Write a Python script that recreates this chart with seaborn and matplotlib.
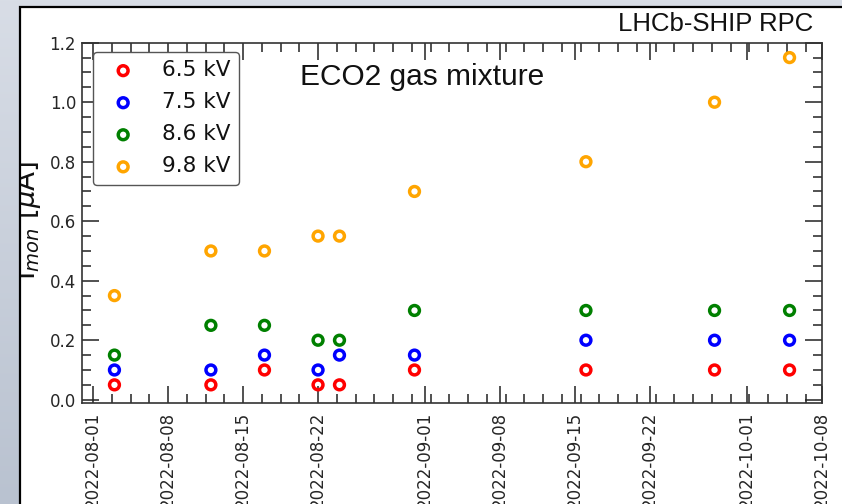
import matplotlib
matplotlib.use("Agg")
import numpy as np
import pandas as pd
import seaborn as sns
import matplotlib.pyplot as plt
import matplotlib.dates as mdates
import matplotlib.ticker as mticker
from matplotlib.patches import Rectangle
from matplotlib.colors import LinearSegmentedColormap
from matplotlib.transforms import Bbox

# ---- data ----
dates = ["2022-08-03", "2022-08-12", "2022-08-17", "2022-08-22", "2022-08-24",
         "2022-08-31", "2022-09-16", "2022-09-28", "2022-10-05"]
i_65 = [0.05, 0.05, 0.10, 0.05, 0.05, 0.10, 0.10, 0.10, 0.10]
i_75 = [0.10, 0.10, 0.15, 0.10, 0.15, 0.15, 0.20, 0.20, 0.20]
i_86 = [0.15, 0.25, 0.25, 0.20, 0.20, 0.30, 0.30, 0.30, 0.30]
i_98 = [0.35, 0.50, 0.50, 0.55, 0.55, 0.70, 0.80, 1.00, 1.15]
series = [i_65, i_75, i_86, i_98]
labels = ["6.5 kV", "7.5 kV", "8.6 kV", "9.8 kV"]
colors = ["red", "blue", "green", "orange"]

sns.set_theme(style="ticks")
plt.rcParams["font.family"] = ["DejaVu Sans"]

W, H = 842, 504
fig = plt.figure(figsize=(W / 100, H / 100), dpi=100)

# window-like background gradient
bg = fig.add_axes([0, 0, 1, 1], zorder=-10)
grad = np.linspace(0, 1, 256).reshape(-1, 1)
cmap = LinearSegmentedColormap.from_list("bg", ["#d8dde6", "#b9c2d0"])
bg.imshow(grad, aspect="auto", extent=[0, 1, 0, 1], cmap=cmap, origin="upper")
bg.axis("off")

# white canvas with black border
rect = Rectangle((20 / W, -0.05), 1.2, 1 - 7 / H + 0.05, transform=fig.transFigure,
                 facecolor="white", edgecolor="black", linewidth=1.6, zorder=-5)
fig.add_artist(rect)

ax_l, ax_r, ax_t, ax_b = 82.3, 821.7, 42.7, 402.7
ax = fig.add_axes([ax_l / W, (H - ax_b) / H, (ax_r - ax_l) / W, (ax_b - ax_t) / H])
ax.set_facecolor("white")

for vals, lab, col in zip(series, labels, colors):
    df = pd.DataFrame({"date": pd.to_datetime(dates), "I": vals})
    sns.scatterplot(data=df, x="date", y="I", ax=ax, marker="o", s=50,
                    facecolor="none", edgecolor=col, color=col,
                    linewidth=2.5, label=lab, zorder=3)

ax.set_xlim(pd.Timestamp("2022-07-31"), pd.Timestamp("2022-10-08"))
ax.set_ylim(-0.01, 1.2)

ax.xaxis.set_major_locator(mdates.DayLocator(bymonthday=[1, 8, 15, 22]))
ax.xaxis.set_major_formatter(mdates.DateFormatter("%Y-%m-%d"))
ax.xaxis.set_minor_locator(mticker.AutoMinorLocator(4))
ax.yaxis.set_major_locator(mticker.MultipleLocator(0.2))
ax.yaxis.set_major_formatter(mticker.FormatStrFormatter("%.1f"))
ax.yaxis.set_minor_locator(mticker.AutoMinorLocator(4))

ax.tick_params(which="both", direction="in", top=True, right=True,
               color="#222222", width=1.1)
ax.tick_params(which="major", length=12.5)
ax.tick_params(which="minor", length=6.2)
ax.tick_params(axis="x", which="major", labelsize=12, pad=6.5, labelrotation=90)
ax.tick_params(axis="y", which="major", labelsize=12, pad=4.5)
for lbl in ax.get_xticklabels():
    lbl.set_va("top")
for sp in ax.spines.values():
    sp.set_linewidth(1.2)
    sp.set_color("#333333")

ax.set_xlabel("")
ax.set_ylabel("")

ylab = fig.text(43 / W, 1 - 220.5 / H, r"I$_{mon}$ [$\mu$A]", rotation=90,
                ha="right", va="center", fontsize=20, color="#111111")
ylab.set_clip_box(Bbox([[21, 0], [W, H]]))

ax.text(0.9886, 1.0314, "LHCb-SHIP RPC", transform=ax.transAxes, ha="right",
        va="baseline", fontsize=18.5, family=["Liberation Sans", "DejaVu Sans"],
        color="#111111")
ax.text(0.2944, 0.883, "ECO2 gas mixture", transform=ax.transAxes, ha="left",
        va="baseline", fontsize=21.5, family=["Liberation Sans", "DejaVu Sans"],
        color="#111111")

leg = ax.legend(loc="upper left", bbox_to_anchor=(0.0145, 0.975), borderaxespad=0,
                fontsize=15.5, frameon=True, fancybox=True, framealpha=1,
                edgecolor="#555555", labelspacing=0.56, handletextpad=0.8)
leg.get_frame().set_linewidth(1.0)
for t in leg.get_texts():
    t.set_color("#111111")

fig.savefig("out.png", dpi=100)
